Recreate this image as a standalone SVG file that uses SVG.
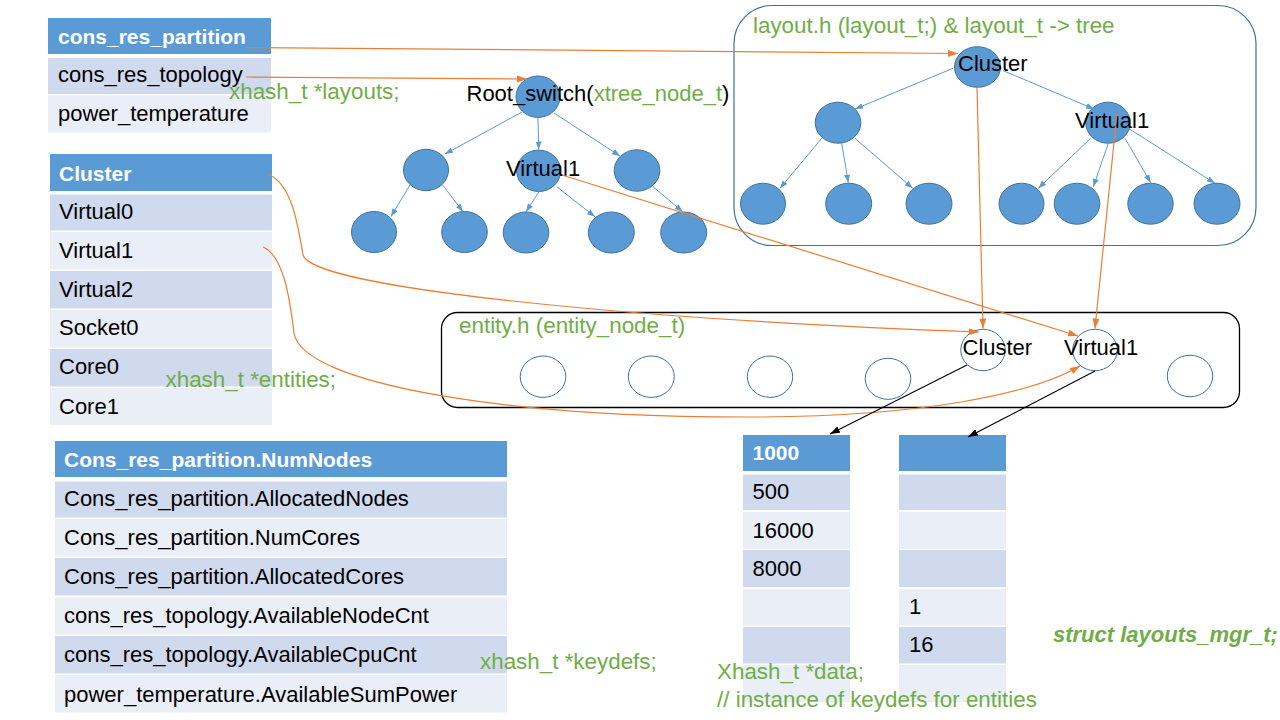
<svg xmlns="http://www.w3.org/2000/svg" width="1280" height="720" viewBox="0 0 1280 720">
<style>
text{font-family:"Liberation Sans",Arial,sans-serif;font-size:22px;fill:#000}
.th{font-weight:bold;fill:#fff;font-size:21px}
.g{fill:#70AD47;font-size:22.4px}
.hd{fill:#5B9BD5}
.r1{fill:#CFDAEE}
.r2{fill:#E9EEF7}
.fn{fill:#5B9BD5;stroke:#41719C;stroke-width:1}
.en{fill:#fff;stroke:#41719C;stroke-width:1}
.be{stroke:#5B9BD5;stroke-width:1;fill:none;marker-end:url(#ab)}
.oe{stroke:#ED7D31;stroke-width:1.2;fill:none;marker-end:url(#ao)}
.ke{stroke:#000;stroke-width:1.1;fill:none;marker-end:url(#ak)}
</style>
<defs>
<marker id="ab" viewBox="0 0 10 10" refX="10" refY="5" markerWidth="8" markerHeight="6" markerUnits="userSpaceOnUse" orient="auto" preserveAspectRatio="none"><path d="M0,0 L10,5 L0,10 z" fill="#5B9BD5"/></marker>
<marker id="ao" viewBox="0 0 10 10" refX="10" refY="5" markerWidth="10" markerHeight="7" markerUnits="userSpaceOnUse" orient="auto" preserveAspectRatio="none"><path d="M0,0 L10,5 L0,10 z" fill="#ED7D31"/></marker>
<marker id="ak" viewBox="0 0 10 10" refX="10" refY="5" markerWidth="10" markerHeight="7" markerUnits="userSpaceOnUse" orient="auto" preserveAspectRatio="none"><path d="M0,0 L10,5 L0,10 z" fill="#000"/></marker>
</defs>
<rect width="1280" height="720" fill="#fff"/>

<g id="table-plugins">
<rect class="hd" x="48" y="18" width="223" height="36"/>
<text class="th" x="58" y="43.5">cons_res_partition</text>
<rect class="r1" x="48" y="58" width="223" height="36"/>
<text x="58" y="82">cons_res_topology</text>
<rect class="r2" x="48" y="95.5" width="223" height="37"/>
<text x="58" y="120.5">power_temperature</text>
</g>

<g id="table-entities">
<rect class="hd" x="50" y="154" width="222" height="37"/>
<text class="th" x="59" y="181">Cluster</text>
<rect class="r1" x="50" y="194.5" width="222" height="36"/>
<text x="59" y="218.5">Virtual0</text>
<rect class="r2" x="50" y="232" width="222" height="37.5"/>
<text x="59" y="257.5">Virtual1</text>
<rect class="r1" x="50" y="271" width="222" height="37.5"/>
<text x="59" y="296.5">Virtual2</text>
<rect class="r2" x="50" y="310" width="222" height="37.5"/>
<text x="59" y="335">Socket0</text>
<rect class="r1" x="50" y="349" width="222" height="37.5"/>
<text x="59" y="374">Core0</text>
<rect class="r2" x="50" y="388" width="222" height="37"/>
<text x="59" y="413.5">Core1</text>
</g>

<g id="table-keydefs">
<rect class="hd" x="55" y="441" width="452" height="36"/>
<text class="th" x="64" y="466.5">Cons_res_partition.NumNodes</text>
<rect class="r1" x="55" y="481.5" width="452" height="36"/>
<text x="64" y="506">Cons_res_partition.AllocatedNodes</text>
<rect class="r2" x="55" y="519" width="452" height="37.5"/>
<text x="64" y="545">Cons_res_partition.NumCores</text>
<rect class="r1" x="55" y="558" width="452" height="37.5"/>
<text x="64" y="584">Cons_res_partition.AllocatedCores</text>
<rect class="r2" x="55" y="597.5" width="452" height="37"/>
<text x="64" y="623.3">cons_res_topology.AvailableNodeCnt</text>
<rect class="r1" x="55" y="636" width="452" height="37.5"/>
<text x="64" y="662.3">cons_res_topology.AvailableCpuCnt</text>
<rect class="r2" x="55" y="675" width="452" height="37.5"/>
<text x="64" y="701.5">power_temperature.AvailableSumPower</text>
</g>

<g id="data-cluster">
<rect class="hd" x="743" y="435" width="107" height="36"/>
<text class="th" x="752.5" y="460">1000</text>
<rect class="r1" x="743" y="474.5" width="107" height="35.5"/>
<text x="752.5" y="499">500</text>
<rect class="r2" x="743" y="512" width="107" height="37"/>
<text x="752.5" y="537.5">16000</text>
<rect class="r1" x="743" y="550" width="107" height="37"/>
<text x="752.5" y="576">8000</text>
<rect class="r2" x="743" y="589" width="107" height="36.5"/>
<rect class="r1" x="743" y="627" width="107" height="36.5"/>
<rect class="r2" x="743" y="665" width="107" height="37"/>
</g>

<g id="data-virtual1">
<rect class="hd" x="899" y="435" width="107" height="36"/>
<rect class="r1" x="899" y="474.5" width="107" height="35.5"/>
<rect class="r2" x="899" y="512" width="107" height="37"/>
<rect class="r1" x="899" y="550" width="107" height="37"/>
<rect class="r2" x="899" y="589" width="107" height="36.5"/>
<text x="909" y="613.5">1</text>
<rect class="r1" x="899" y="627" width="107" height="36.5"/>
<text x="909" y="652">16</text>
<rect class="r2" x="899" y="665" width="107" height="37"/>
</g>

<g id="layout-box">
<rect x="734" y="5.5" width="522" height="240" rx="38" ry="38" fill="none" stroke="#41719C" stroke-width="1.2"/>
<text class="g" x="753" y="33">layout.h (layout_t;) &amp; layout_t -&gt; tree</text>
</g>

<g id="entity-box">
<rect x="441.5" y="312.5" width="798" height="95" rx="16" ry="16" fill="none" stroke="#000" stroke-width="1.3"/>
<text class="g" x="459" y="333">entity.h (entity_node_t)</text>
</g>

<g id="xtree-root"><ellipse class="fn" cx="538" cy="96.7" rx="22" ry="20.7"/><text x="466.5" y="100.5">Root_switch(<tspan class="g" style="font-size:22px">xtree_node_t</tspan>)</text></g>
<g id="xtree-l2a"><ellipse class="fn" cx="426" cy="170" rx="22.5" ry="20.7"/></g>
<g id="xtree-l2b"><ellipse class="fn" cx="538.7" cy="170.8" rx="22" ry="20.7"/><text x="506" y="175.5">Virtual1</text></g>
<g id="xtree-l2c"><ellipse class="fn" cx="637" cy="170.5" rx="22.8" ry="20.7"/></g>
<g id="xtree-l3a"><ellipse class="fn" cx="374" cy="232" rx="22.5" ry="20.5"/></g>
<g id="xtree-l3b"><ellipse class="fn" cx="464.5" cy="232" rx="22.8" ry="20.5"/></g>
<g id="xtree-l3c"><ellipse class="fn" cx="526" cy="232.5" rx="22.8" ry="20.5"/></g>
<g id="xtree-l3d"><ellipse class="fn" cx="611.3" cy="232.5" rx="23" ry="20.5"/></g>
<g id="xtree-l3e"><ellipse class="fn" cx="683.7" cy="232.5" rx="23" ry="20.5"/></g>

<g id="layout-cluster"><ellipse class="fn" cx="977.5" cy="67" rx="23" ry="20.3"/><text x="958" y="70.5">Cluster</text></g>
<g id="layout-l2a"><ellipse class="fn" cx="838" cy="122.7" rx="22.8" ry="20.5"/></g>
<g id="layout-virtual1"><ellipse class="fn" cx="1108" cy="122.7" rx="22.2" ry="20.5"/><text x="1075" y="128.3">Virtual1</text></g>
<g id="layout-l3a"><ellipse class="fn" cx="763" cy="203.7" rx="22.5" ry="20.5"/></g>
<g id="layout-l3b"><ellipse class="fn" cx="848.7" cy="203.7" rx="23" ry="20.5"/></g>
<g id="layout-l3c"><ellipse class="fn" cx="929" cy="203.7" rx="23" ry="20.5"/></g>
<g id="layout-l3d"><ellipse class="fn" cx="1021.5" cy="203.7" rx="22.5" ry="20.5"/></g>
<g id="layout-l3e"><ellipse class="fn" cx="1077" cy="203.7" rx="22.8" ry="20.5"/></g>
<g id="layout-l3f"><ellipse class="fn" cx="1150.5" cy="203.7" rx="22.7" ry="20.5"/></g>
<g id="layout-l3g"><ellipse class="fn" cx="1217" cy="203.7" rx="23" ry="20.5"/></g>

<g id="entity-1"><ellipse class="en" cx="543" cy="376.7" rx="22.8" ry="20.7"/></g>
<g id="entity-2"><ellipse class="en" cx="651.3" cy="376.7" rx="23" ry="20.7"/></g>
<g id="entity-3"><ellipse class="en" cx="770" cy="376.7" rx="22.7" ry="20.7"/></g>
<g id="entity-4"><ellipse class="en" cx="888" cy="378.8" rx="22.8" ry="20.5"/></g>
<g id="entity-cluster"><ellipse class="en" cx="983" cy="350" rx="22.2" ry="20.7"/><text x="962.5" y="355">Cluster</text></g>
<g id="entity-virtual1"><ellipse class="en" cx="1095" cy="350" rx="22.3" ry="20.7"/><text x="1064" y="355">Virtual1</text></g>
<g id="entity-7"><ellipse class="en" cx="1190" cy="376" rx="22.7" ry="20.8"/></g>

<g id="connectors">
<path class="be" d="M522,112 L445,154"/>
<path class="be" d="M538,118 L538.7,149.5"/>
<path class="be" d="M554,113 L620,156"/>
<path class="be" d="M410,185 L391,216.5"/>
<path class="be" d="M442.7,185 L463,211.7"/>
<path class="be" d="M539,191.7 L526,211.7"/>
<path class="be" d="M556.7,186.7 L595,216.7"/>
<path class="be" d="M653,186.7 L682.7,211.7"/>
<path class="be" d="M953,68.3 L855,109"/>
<path class="be" d="M1003.3,70.7 L1094,109"/>
<path class="be" d="M821.7,138.3 L780,188.3"/>
<path class="be" d="M841.7,143.3 L848.3,182.7"/>
<path class="be" d="M855,138.3 L912.7,188.3"/>
<path class="be" d="M1090.7,138.3 L1038.3,188.3"/>
<path class="be" d="M1108.3,143.3 L1093.3,186.7"/>
<path class="be" d="M1125,138.3 L1150.7,182.7"/>
<path class="be" d="M1128.3,128.3 L1215,183.3"/>
<path class="oe" d="M246,47.5 L958,53.5"/>
<path class="oe" d="M246,77 L527,79"/>
<path class="oe" d="M977,87 L983,328.5"/>
<path class="oe" d="M1117,113 L1095,328.5"/>
<path class="oe" d="M562,175 L1078,336"/>
<path class="oe" d="M268,174 C292,184 298,225 303,255 C312,286 600,318 979,332"/>
<path class="oe" d="M263,247 C284,256 290,300 294,333 C302,383 500,418 760,417 C920,416 1030,395 1080,366"/>
<path class="ke" d="M967,365 L830,434"/>
<path class="ke" d="M1095,371 L968,437"/>
</g>

<g id="labels">
<text class="g" x="229" y="99">xhash_t *layouts;</text>
<text class="g" x="165.5" y="387">xhash_t *entities;</text>
<text class="g" x="480" y="669">xhash_t *keydefs;</text>
<text class="g" x="717" y="679">Xhash_t *data;</text>
<text class="g" x="717" y="707">// instance of keydefs for entities</text>
<text class="g" x="1053" y="641.5" font-weight="bold" font-style="italic" style="font-size:22px">struct layouts_mgr_t;</text>
</g>
</svg>
